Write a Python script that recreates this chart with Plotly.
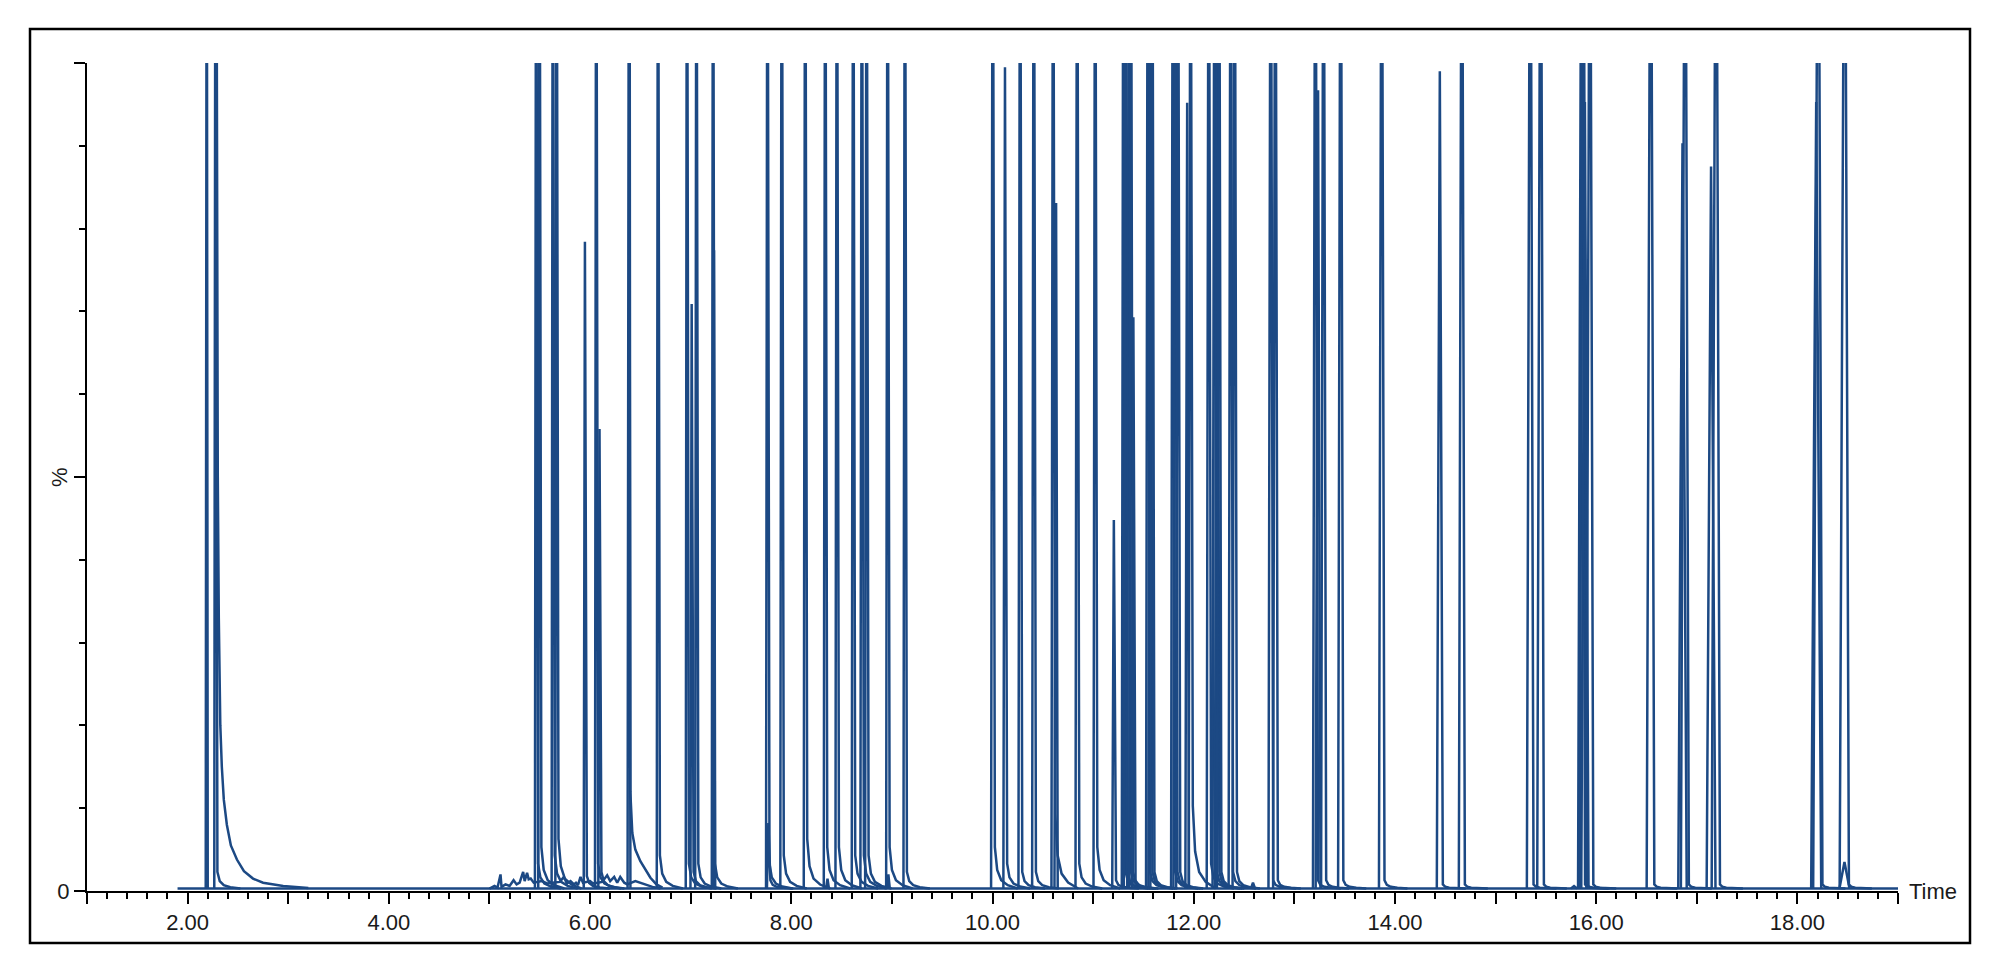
import plotly.graph_objects as go

# ---------------- data ----------------
# baseline extent (time in min, signal in %)
baseline_time = [1.90, 19.00]
baseline_level = [0.3, 0.3]

# noisy baseline between 5.0 and 6.7 min
noise_time = [5.00, 5.05, 5.08, 5.11, 5.12, 5.16, 5.20, 5.24, 5.27, 5.30, 5.335, 5.35,
              5.374, 5.39, 5.41, 5.44, 5.52, 5.58, 5.62, 5.70, 5.74, 5.77, 5.806, 5.84,
              5.86, 5.88, 5.905, 5.93, 6.00, 6.03, 6.12, 6.17, 6.20, 6.24, 6.27, 6.30,
              6.34, 6.37, 6.45, 6.55, 6.62, 6.70]
noise_pct = [0.3, 0.6, 0.4, 2.0, 0.5, 0.8, 0.6, 1.3, 0.8, 1.0, 2.3, 1.2,
             2.2, 1.4, 1.5, 1.0, 1.2, 0.9, 1.0, 1.1, 1.7, 0.9, 1.2, 0.8,
             1.0, 0.7, 1.7, 1.0, 1.2, 0.9, 1.1, 1.9, 1.2, 1.7, 1.0, 1.7,
             1.0, 0.8, 1.2, 0.8, 0.5, 0.3]

# peak table: retention time (min), apex height (% ; 140 = off scale), tail height (%), base half-width (min)
peak_rt = [
    2.190, 2.277,
    5.464, 5.497, 5.630, 5.667, 5.949,
    6.061, 6.094, 6.387, 6.675,
    6.963, 7.010, 7.057, 7.222, 7.232, 7.763, 7.772, 7.905,
    8.138, 8.337, 8.360, 8.453, 8.615, 8.701, 8.748, 8.957, 8.965, 9.129,
    10.002, 10.124, 10.274, 10.410, 10.602, 10.632, 10.841, 11.020,
    11.206, 11.301, 11.321, 11.355, 11.375, 11.400,
    11.544, 11.567, 11.587, 11.793, 11.816, 11.843, 11.935, 11.968,
    12.149, 12.207, 12.231, 12.251, 12.367, 12.406, 12.589, 12.765, 12.811,
    13.209, 13.236, 13.290, 13.460, 13.868, 14.446, 14.665,
    15.345, 15.448, 15.780, 15.856, 15.872, 15.888, 15.938,
    16.542, 16.858, 16.884, 17.142, 17.192, 18.187, 18.207, 18.468, 18.470,
]
peak_height = [
    140, 140,
    140, 140, 140, 140, 78.4,
    140, 55.8, 140, 140,
    140, 70.9, 140, 140, 77.4, 140, 8.2, 140,
    140, 140, 1.5, 140, 140, 140, 140, 140, 2.0, 140,
    140, 99.5, 140, 140, 140, 83.1, 140, 140,
    44.8, 140, 140, 140, 140, 69.3,
    140, 140, 140, 140, 140, 140, 95.2, 140,
    140, 140, 140, 140, 140, 140, 1.0, 140, 140,
    140, 96.7, 140, 140, 140, 99.0, 140,
    140, 140, 0.6, 140, 140, 95.3, 140,
    140, 90.3, 140, 87.5, 140, 95.3, 140, 3.5, 140,
]
peak_tail = [
    0, 2.0,
    3, 5, 4, 6, 1.5,
    3, 2, 0, 4,
    3, 2, 3, 3, 0, 3, 1, 4,
    6, 5, 0, 5, 4, 4, 4, 5, 0, 2,
    5, 3, 2, 2, 9, 0, 3, 5,
    1, 2, 2, 2, 2, 1,
    2, 2, 2, 2, 2, 2, 0, 10,
    3, 2, 2, 2, 2, 2, 0, 1, 1,
    1, 0, 1, 1, 1, 0.5, 0.5,
    0.5, 0.5, 0, 0.5, 0.5, 0, 0.5,
    0.5, 0, 0.5, 0, 0.5, 0, 0.5, 0, 0.5,
]
peak_halfwidth = [
    0.010, 0.012,
    0.012, 0.012, 0.012, 0.012, 0.012,
    0.012, 0.012, 0.014, 0.012,
    0.012, 0.012, 0.012, 0.012, 0.012, 0.014, 0.014, 0.014,
    0.014, 0.014, 0.014, 0.014, 0.014, 0.014, 0.014, 0.014, 0.014, 0.014,
    0.016, 0.016, 0.016, 0.016, 0.016, 0.016, 0.016, 0.016,
    0.016, 0.016, 0.016, 0.016, 0.016, 0.016,
    0.018, 0.018, 0.018, 0.018, 0.018, 0.018, 0.018, 0.018,
    0.020, 0.020, 0.020, 0.020, 0.020, 0.020, 0.020, 0.022, 0.022,
    0.024, 0.024, 0.024, 0.025, 0.027, 0.030, 0.030,
    0.034, 0.034, 0.030, 0.036, 0.036, 0.036, 0.036,
    0.040, 0.042, 0.042, 0.044, 0.044, 0.050, 0.050, 0.050, 0.050,
]

# tails read point by point for the two strongly tailing peaks
solvent_tail_time = [2.283, 2.290, 2.300, 2.310, 2.325, 2.340, 2.360, 2.390,
                     2.430, 2.490, 2.560, 2.650, 2.750, 2.950, 3.200]
solvent_tail_pct = [140, 80, 50, 33, 20, 15, 11, 8.0,
                    5.5, 3.8, 2.4, 1.5, 1.0, 0.6, 0.35]
tail_6_39_time = [6.392, 6.400, 6.420, 6.450, 6.500, 6.550, 6.600, 6.660, 6.720]
tail_6_39_pct = [140, 12, 7.0, 5.0, 3.6, 2.6, 1.6, 0.8, 0.4]

x_ticks = [1, 2, 3, 4, 5, 6, 7, 8, 9, 10, 11, 12, 13, 14, 15, 16, 17, 18, 19]
x_tick_text = ["", "2.00", "", "4.00", "", "6.00", "", "8.00", "", "10.00",
               "", "12.00", "", "14.00", "", "16.00", "", "18.00", ""]
y_ticks = [0, 50, 100]
y_tick_text = ["0", "", ""]

# ---------------- style ----------------
LINE_COLOR = "#1c4984"
FONT = "Arial, Liberation Sans, sans-serif"
TAIL_DT = [0.012, 0.035, 0.075, 0.14, 0.24]
TAIL_FR = [1.0, 0.45, 0.2, 0.08, 0.0]
PAGE_OFFSET = 8  # default body margin of the html page

base = baseline_level[0]
xs = list(baseline_time) + [None]
ys = list(baseline_level) + [None]
xs += list(noise_time) + [None]
ys += list(noise_pct) + [None]
for rt, h, a, w in zip(peak_rt, peak_height, peak_tail, peak_halfwidth):
    xs += [rt - w, rt]
    ys += [base, h]
    if a > 0:
        for dt, fr in zip(TAIL_DT, TAIL_FR):
            xs.append(rt + w * 0.6 + dt)
            ys.append(base + a * fr)
    else:
        xs.append(rt + w)
        ys.append(base)
    xs.append(None)
    ys.append(None)
for tt, vv in [(solvent_tail_time, solvent_tail_pct), (tail_6_39_time, tail_6_39_pct)]:
    xs += list(tt) + [None]
    ys += list(vv) + [None]

fig = go.Figure()
fig.add_trace(go.Scatter(x=xs, y=ys, mode="lines",
                         line=dict(color=LINE_COLOR, width=2.5),
                         connectgaps=False, hoverinfo="skip"))

W, H = 2000 - PAGE_OFFSET, 976 - PAGE_OFFSET
L, T = 87 - PAGE_OFFSET, 63 - PAGE_OFFSET
PW, PH = 1811, 828
fig.update_layout(
    width=W, height=H,
    margin=dict(l=L, r=W - L - PW, t=T, b=H - T - PH, pad=0),
    paper_bgcolor="white", plot_bgcolor="white",
    showlegend=False,
    font=dict(family=FONT, size=22, color="#1a1a1a"),
)
fig.update_xaxes(
    range=[1, 19], showgrid=False, zeroline=False,
    showline=True, linecolor="black", linewidth=2,
    ticks="outside", ticklen=11, tickwidth=2, tickcolor="black",
    tickmode="array", tickvals=x_ticks, ticktext=x_tick_text,
    tickfont=dict(size=22, family=FONT, color="#1a1a1a"),
    minor=dict(tick0=1, dtick=0.2, ticks="outside", ticklen=6, tickwidth=2, tickcolor="black"),
)
fig.update_yaxes(
    range=[0, 100], showgrid=False, zeroline=False,
    showline=True, linecolor="black", linewidth=2,
    ticks="outside", ticklen=11, tickwidth=2, tickcolor="black",
    tickmode="array", tickvals=y_ticks, ticktext=y_tick_text,
    tickfont=dict(size=22, family=FONT, color="#1a1a1a"),
    minor=dict(tick0=0, dtick=10, ticks="outside", ticklen=6, tickwidth=2, tickcolor="black"),
)

# outer frame (page pixel positions converted to paper fractions)
fig.add_shape(type="rect", xref="paper", yref="paper",
              x0=(30 - 87) / PW, x1=(1970 - 87) / PW,
              y0=(891 - 943) / PH, y1=(891 - 29) / PH,
              line=dict(color="black", width=2.5), fillcolor="rgba(0,0,0,0)", layer="below")

fig.add_annotation(text="Time", xref="paper", yref="y", x=1.0, y=0,
                   xanchor="left", yanchor="middle", xshift=9, showarrow=False,
                   font=dict(size=22, family=FONT, color="#1a1a1a"))
fig.add_annotation(text="%", xref="paper", yref="y", x=(59 - 87) / PW, y=50,
                   textangle=-90, xanchor="center", yanchor="middle", showarrow=False,
                   font=dict(size=22, family=FONT, color="#1a1a1a"))

fig.write_html("out.html")
